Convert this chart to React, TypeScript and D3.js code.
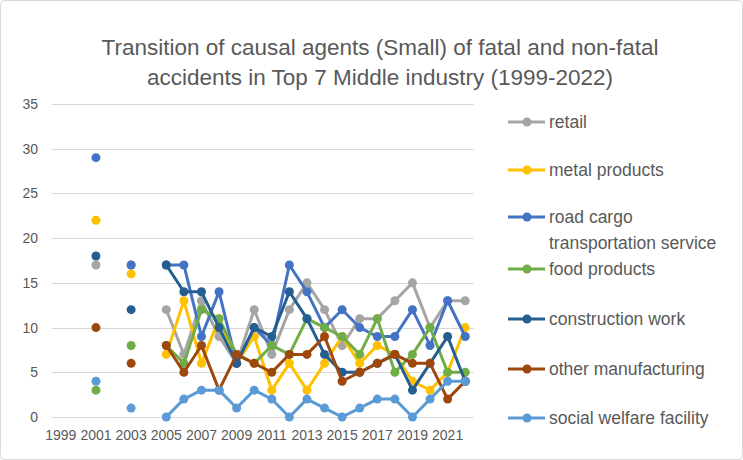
import * as d3 from 'd3'
import { useEffect, useRef } from 'react'

const years = d3.range(1999, 2023)
const tickYears = d3.range(1999, 2023, 2)
const yTicks = [0, 5, 10, 15, 20, 25, 30, 35]

// values for 2000..2022, null = no data
const retail = [null, 17, null, 17, null, 12, 7, 13, 9, 6, 12, 7, 12, 15, 12, 8, 11, 11, 13, 15, 10, 13, 13]
const metalProducts = [null, 22, null, 16, null, 7, 13, 6, 11, 6, 9, 3, 6, 3, 6, 9, 6, 8, 7, 4, 3, 5, 10]
const roadCargo = [null, 29, null, 17, null, 17, 17, 9, 14, 6, 10, 8, 17, 14, 10, 12, 10, 9, 9, 12, 8, 13, 9]
const foodProducts = [null, 3, null, 8, null, 8, 6, 12, 11, 7, 6, 8, 7, 11, 10, 9, 7, 11, 5, 7, 10, 5, 5]
const construction = [null, 18, null, 12, null, 17, 14, 14, 10, 6, 10, 9, 14, 11, 7, 5, 5, 6, 7, 3, 6, 9, 4]
const otherManufacturing = [null, 10, null, 6, null, 8, 5, 8, 3, 7, 6, 5, 7, 7, 9, 4, 5, 6, 7, 6, 6, 2, 4]
const socialWelfare = [null, 4, null, 1, null, 0, 2, 3, 3, 1, 3, 2, 0, 2, 1, 0, 1, 2, 2, 0, 2, 4, 4]

const seriesNames = ['retail', 'metal products', 'road cargo|transportation service', 'food products', 'construction work', 'other manufacturing', 'social welfare facility']
const seriesValues = [retail, metalProducts, roadCargo, foodProducts, construction, otherManufacturing, socialWelfare]
const seriesColors = ['#A5A5A5', '#FFC000', '#4472C4', '#70AD47', '#255E91', '#9E480E', '#5B9BD5']
const legendY = [122, 170, 217, 269, 319, 369, 418]

export default function App() {
  const ref = useRef(null)

  useEffect(() => {
    const svg = d3.select(ref.current)
    svg.selectAll('*').remove()
    const width = 743
    const height = 460
    const margin = { top: 104, right: 269, bottom: 43, left: 52 }
    const font = '"Liberation Sans", Arial, sans-serif'
    const textColor = '#595959'

    svg.append('rect')
      .attr('x', 0.5).attr('y', 0.5)
      .attr('width', width - 1).attr('height', height - 1)
      .attr('rx', 4)
      .attr('fill', '#fff')
      .attr('stroke', '#d9d9d9')

    const x = d3.scaleBand()
      .domain(years.map(String))
      .range([margin.left, width - margin.right])
    const cx = (yr) => x(String(yr)) + x.bandwidth() / 2

    const y = d3.scaleLinear()
      .domain([0, 35])
      .range([height - margin.bottom, margin.top])

    // title
    const title = svg.append('text')
      .attr('text-anchor', 'middle')
      .attr('font-family', font)
      .attr('font-size', 22.5)
      .attr('fill', textColor)
    title.append('tspan').attr('x', 380).attr('y', 55).text('Transition of causal agents (Small) of fatal and non-fatal')
    title.append('tspan').attr('x', 380).attr('y', 85).text('accidents in Top 7 Middle industry (1999-2022)')

    // grid
    svg.append('g')
      .selectAll('line')
      .data(yTicks)
      .join('line')
      .attr('x1', margin.left)
      .attr('x2', width - margin.right)
      .attr('y1', (d) => Math.round(y(d)) + 0.5)
      .attr('y2', (d) => Math.round(y(d)) + 0.5)
      .attr('stroke', '#d9d9d9')
      .attr('stroke-width', 1)

    // y axis labels
    const yAxis = svg.append('g')
      .attr('transform', `translate(${margin.left},0)`)
      .call(d3.axisLeft(y).tickValues(yTicks).tickSize(0).tickPadding(14))
    yAxis.select('.domain').remove()
    yAxis.selectAll('text')
      .attr('font-family', font)
      .attr('font-size', 14)
      .attr('fill', textColor)

    // x axis labels
    const xAxis = svg.append('g')
      .attr('transform', `translate(0,${height - margin.bottom})`)
      .call(d3.axisBottom(x).tickValues(tickYears.map(String)).tickSize(0).tickPadding(13))
    xAxis.select('.domain').remove()
    xAxis.selectAll('text')
      .attr('font-family', font)
      .attr('font-size', 14)
      .attr('fill', textColor)

    const line = d3.line()
      .defined((d) => d.v !== null)
      .x((d) => cx(d.year))
      .y((d) => y(d.v))

    const plot = svg.append('g')
    seriesValues.forEach((vals, i) => {
      const pts = years.map((yr, j) => ({ year: yr, v: j === 0 ? null : vals[j - 1] }))
      const g = plot.append('g')
      g.append('path')
        .datum(pts)
        .attr('d', line)
        .attr('fill', 'none')
        .attr('stroke', seriesColors[i])
        .attr('stroke-width', 3)
        .attr('stroke-linejoin', 'round')
      g.selectAll('circle')
        .data(pts.filter((d) => d.v !== null))
        .join('circle')
        .attr('cx', (d) => cx(d.year))
        .attr('cy', (d) => y(d.v))
        .attr('r', 4.5)
        .attr('fill', seriesColors[i])
    })

    // legend
    const legend = svg.append('g')
    seriesNames.forEach((name, i) => {
      const ly = legendY[i]
      const item = legend.append('g')
      item.append('line')
        .attr('x1', 508).attr('x2', 545)
        .attr('y1', ly).attr('y2', ly)
        .attr('stroke', seriesColors[i])
        .attr('stroke-width', 3)
      item.append('circle')
        .attr('cx', 527).attr('cy', ly).attr('r', 4.5)
        .attr('fill', seriesColors[i])
      const t = item.append('text')
        .attr('font-family', font)
        .attr('font-size', 17.5)
        .attr('fill', textColor)
      name.split('|').forEach((part, k) => {
        t.append('tspan')
          .attr('x', 549)
          .attr('y', ly + 6 + k * 26)
          .text(part)
      })
    })
  }, [])

  return (
    <svg
      ref={ref}
      width={743}
      height={460}
      style={{ position: 'absolute', left: 0, top: 0 }}
    />
  )
}
